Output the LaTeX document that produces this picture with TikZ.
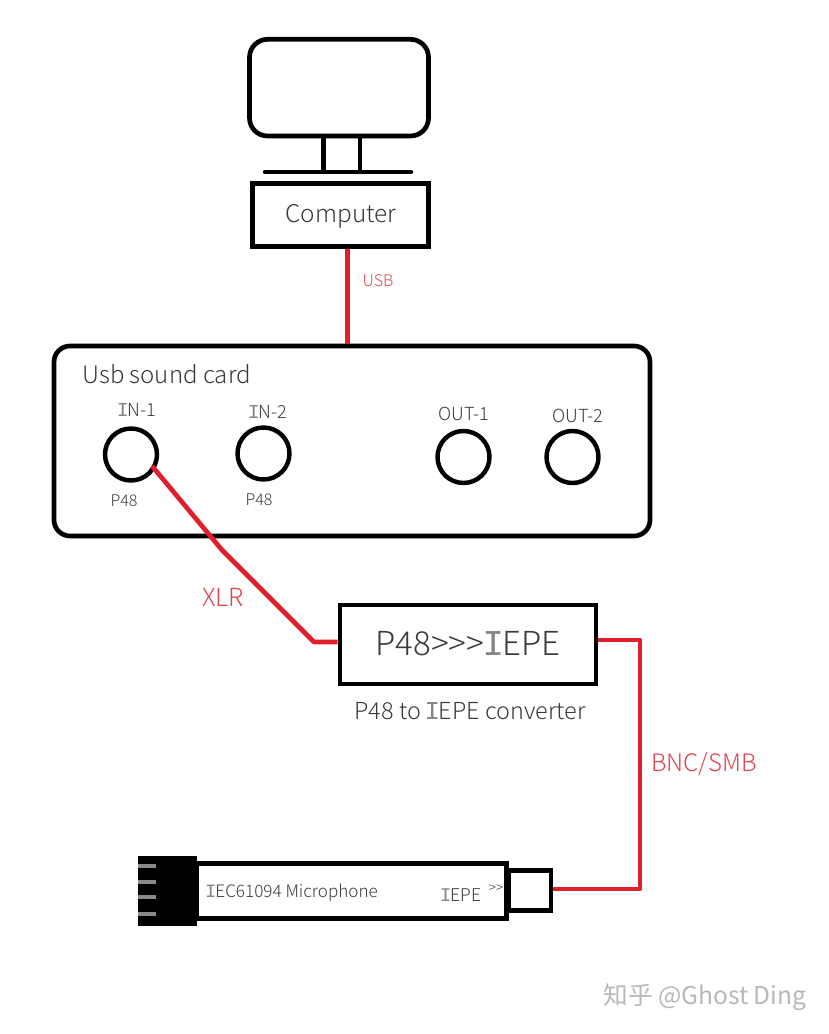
\documentclass[tikz,border=0pt]{standalone}
\usepackage{fontspec}
\setmainfont{Noto Sans CJK SC Light}
\newfontfamily\markfont{Noto Sans CJK SC}
\newfontfamily\serifi[Scale=1.1]{Liberation Mono}
\usetikzlibrary{calc,positioning}
\definecolor{vred}{HTML}{E01F2D}
\definecolor{vlabel}{HTML}{3A3A3A}
\definecolor{vpin}{HTML}{8A8A8A}
\newcommand{\fs}[1]{\fontsize{#1}{#1}\selectfont}
\newcommand{\sI}{\kern-0.06em{\serifi\color{vlabel!62}I}\kern-0.06em}
\tikzset{
  box/.style={draw=black,fill=white,line width=4pt,inner sep=0pt},
  jack/.style={circle,draw=black,fill=white,line width=3.8pt,minimum size=1.56cm,inner sep=0pt},
  cable/.style={draw=vred,line width=4pt,line join=round},
  lbl/.style={text=vlabel,inner sep=0pt},
  rlbl/.style={text=vred!85!white,inner sep=0pt},
}
\begin{document}
\begin{tikzpicture}
  \useasboundingbox (0,0) rectangle (24.84,31.02);
  % computer
  \node[box,rounded corners=0.54cm,minimum width=5.37cm,minimum height=2.9cm] (monitor) at (10.17,28.39) {};
  \node[box,minimum width=5.28cm,minimum height=1.89cm] (computer) at (10.215,24.57) {};
  \node[lbl,font=\fs{20.8}] (computertxt) at (10.23,24.54) {Computer};
  \draw[line width=4pt] (9.705,26.94) -- (9.705,25.86);
  \draw[line width=4pt] (10.8,26.94) -- (10.8,25.86);
  \draw[line width=3.8pt,line cap=round] (7.95,25.86) -- (12.33,25.86);
  % sound card
  \node[box,rounded corners=0.48cm,minimum width=17.88cm,minimum height=5.7cm] (card) at (10.56,17.79) {};
  \node[lbl,font=\fs{20.5},anchor=west] (cardtxt) at (2.46,19.8) {Usb sound card};
  \foreach \n/\x/\y/\lx/\t/\ty in {in1/3.93/17.385/4.11/{\sI N-1}/18.72,in2/7.905/17.415/8.04/{\sI N-2}/18.66,out1/13.905/17.31/13.92/OUT-1/18.6,out2/17.175/17.31/17.34/OUT-2/18.54} {
    \node[jack] (\n) at (\x,\y) {};
    \node[lbl,font=\fs{15.4}] (\n txt) at (\lx,\ty) {\t};
  }
  \node[lbl,font=\fs{13.7}] (p1) at (3.72,15.99) {P48};
  \node[lbl,font=\fs{13.7}] (p2) at (7.77,16.02) {P48};
  % converter
  \node[box,minimum width=7.68cm,minimum height=2.37cm] (conv) at (14.04,11.685) {};
  \node[lbl,font=\fs{28.2}] (convtxt) at (14.04,11.7) {P48{>}{>}{>}\sI EPE};
  \node[lbl,font=\fs{20}] (convcap) at (14.1,9.69) {P48 to \sI EPE converter};
  % microphone
  \node[box,line width=4.2pt,minimum width=9.285cm,minimum height=1.65cm] (mic) at (10.5525,4.29) {};
  \node[fill=black,minimum width=1.77cm,minimum height=2.1cm,inner sep=0pt] (plug) at (5.025,4.29) {};
  \foreach \y in {5.04,4.56,4.11,3.6}
    \draw[vpin,line width=3.6pt] (4.14,\y) -- (4.68,\y);
  \node[box,line width=3.8pt,minimum width=1.275cm,minimum height=1.2cm] (bnc) at (15.89,4.305) {};
  \node[lbl,font=\fs{14.6},anchor=west] (mictxt) at (6.18,4.23) {\sI EC61094 Microphone};
  \node[lbl,font=\fs{15}] (iepe) at (13.83,4.17) {\sI EPE};
  \node[lbl,font=\fs{11.5}] (iepein) at (14.88,4.35) {{>}{>}};
  % cables
  \coordinate (usbtop) at ($(computer.south)+(0.2,0)$);
  \coordinate (usbend) at (card.north -| usbtop);
  \coordinate (xlrs) at (4.56,17.04);
  \coordinate (xlrc) at (6.66,14.52);
  \coordinate (xlrb) at (9.42,11.76);
  \coordinate (bncc) at (19.2,11.82);
  \coordinate (bncd) at (19.2,4.35);
  \draw[cable] (usbtop) -- (usbend);
  \draw[cable] (xlrs) -- (xlrc) -- (xlrb) -- (xlrb -| conv.west);
  \draw[cable] (bncc -| conv.east) -- (bncc) -- (bncd) -- (bncd -| bnc.east);
  \node[rlbl,font=\fs{13.7}] (usbtxt) at (11.34,22.59) {USB};
  \node[rlbl,font=\fs{21.3}] (xlrtxt) at (6.69,13.11) {XLR};
  \node[rlbl,font=\fs{20.5}] (bnctxt) at (21.12,8.1) {BNC/SMB};
  % watermark
  \node[text=black!28,font=\markfont\fs{21},inner sep=0pt] (mark) at (21.15,1.11) {知乎 @Ghost Ding};
\end{tikzpicture}
\end{document}
